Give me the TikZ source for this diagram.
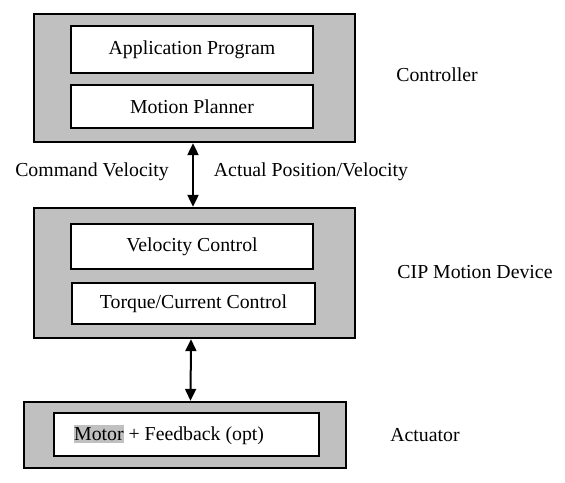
\documentclass[tikz,border=0pt]{standalone}
\usepackage{fontspec}
\setmainfont{Liberation Serif}
\usetikzlibrary{arrows.meta}
\definecolor{boxgrey}{HTML}{C0C0C0}
\begin{document}
\begin{tikzpicture}[x=1pt,y=-1pt,
  every node/.style={font=\fontsize{19.8}{23}\selectfont},
  outerbox/.style={draw=black,line width=1.3pt,fill=boxgrey,minimum width=#1,inner sep=0pt},
  innerbox/.style={draw=black,line width=1.3pt,fill=white,inner sep=0pt},
  biarrow/.style={line width=2pt,{Triangle[length=12pt,width=11pt]}-{Triangle[length=12pt,width=11pt]},shorten <=0.5pt,shorten >=0.5pt},
  lbl/.style={inner sep=0pt}]
\useasboundingbox (0,0) rectangle (565,482);
% controller
\node[outerbox=321pt,minimum height=128pt] (top) at (194.5,78) {};
\node[innerbox,minimum width=242pt,minimum height=47pt] (app) at (192,49.5) {Application Program};
\node[innerbox,minimum width=242pt,minimum height=43pt] (mp) at (192,106.5) {Motion Planner};
% device
\node[outerbox=321pt,minimum height=130pt] (mid) at (194.5,273) {};
\node[innerbox,minimum width=242pt,minimum height=45pt] (vc) at (192,246.5) {Velocity Control};
\node[innerbox,minimum width=243pt,minimum height=41pt] (tc) at (193.5,303.5) {Torque/Current Control};
% actuator
\node[outerbox=322pt,minimum height=66pt] (bot) at (185,435) {};
\node[innerbox,minimum width=265pt,minimum height=43pt] (mf) at (186.5,434.5) {};
\node[lbl,anchor=west] (mftext) at (74,435) {{\setlength\fboxsep{0pt}\colorbox{boxgrey}{\rule[-0.15em]{0pt}{0.9em}Motor}} + Feedback (opt)};
% arrows
\draw[biarrow] ([xshift=-1.5pt]top.south) -- ([xshift=-1.5pt]mid.north);
\draw[biarrow] ([xshift=-3.5pt]mid.south) -- ([xshift=5.5pt]bot.north);
% labels
\node[lbl] (ctl) at (437,75) {Controller};
\node[lbl] (cip) at (475,272) {CIP Motion Device};
\node[lbl] (act) at (425,435) {Actuator};
\node[lbl] (cmd) at (92,172) {Command Velocity};
\node[lbl] (actual) at (311,172) {Actual Position/Velocity};
\end{tikzpicture}
\end{document}
